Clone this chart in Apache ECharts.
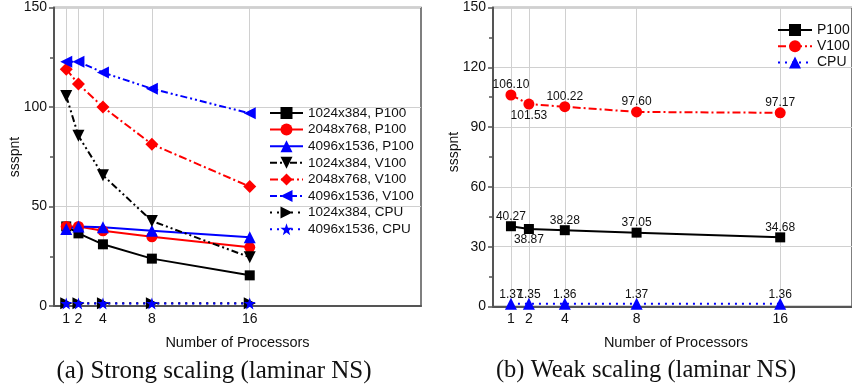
<!DOCTYPE html>
<html><head><meta charset="utf-8">
<script src="https://cdn.jsdelivr.net/npm/echarts@6/dist/echarts.min.js"></script>
<style>html,body{margin:0;padding:0;background:#fff}#c{width:852px;height:389px}</style>
</head><body><div id="c"></div>
<script>
// ---- data ----
const procs = [1, 2, 4, 8, 16];
const xTicks = [1, 2, 4, 8, 16];
const strongNames = ['1024x384, P100','2048x768, P100','4096x1536, P100','1024x384, V100','2048x768, V100','4096x1536, V100','1024x384, CPU','4096x1536, CPU'];
const s_p100_1024 = [40, 36.5, 31, 23.8, 15.4];
const s_p100_2048 = [40, 40, 37.8, 34.8, 29.5];
const s_p100_4096 = [38.7, 40, 39.6, 37.8, 34.5];
const s_v100_1024 = [105.5, 85.5, 65.7, 42.7, 24.5];
const s_v100_2048 = [119, 111.5, 100, 81.3, 60];
const s_v100_4096 = [122.8, 122.8, 117.3, 109.2, 96.8];
const s_cpu_1024 = [1.37, 1.35, 1.36, 1.37, 1.36];
const s_cpu_4096 = [1.3, 1.3, 1.3, 1.3, 1.3];
const weakNames = ['P100', 'V100', 'CPU'];
const w_p100 = [40.27, 38.87, 38.28, 37.05, 34.68];
const w_v100 = [106.10, 101.53, 100.22, 97.60, 97.17];
const w_cpu = [1.37, 1.35, 1.36, 1.37, 1.36];
const leftYTicks = {min: 0, max: 150, interval: 50};
const rightYTicks = {min: 0, max: 150, interval: 30};
const labels = {
  yTitle: 'ssspnt', xTitle: 'Number of Processors',
  capA: '(a) Strong scaling (laminar NS)', capB: '(b) Weak scaling (laminar NS)'
};
// ---- end data ----

const STAR = 'path://M0,-10 L2.35,-3.24 L9.51,-3.09 L3.8,1.24 L5.88,8.09 L0,4 L-5.88,8.09 L-3.8,1.24 L-9.51,-3.09 L-2.35,-3.24 Z';
const FONT = '"Liberation Sans", Arial, sans-serif';
const SERIF = '"Liberation Serif", "DejaVu Serif", serif';
const pts = arr => procs.map((p, i) => [p, arr[i]]);
const DASHDOTDOT = [7, 3, 2, 3, 2, 3];
const DASHDOT = [8, 3, 2, 3];
const DOT = [2, 5];

function mk(name, data, color, symbol, size, type, rot, grid) {
  return {
    name, type: 'line', data: pts(data), xAxisIndex: grid, yAxisIndex: grid,
    symbol, symbolSize: size, symbolRotate: rot || 0,
    itemStyle: {color}, lineStyle: {color, width: 2, type},
    animation: false, z: 3
  };
}

const axisLineStyle = {color: '#555', width: 2};
const gridLine = {show: true, lineStyle: {color: '#d0d0d0', width: 1}};
function xAxis(grid, max) {
  return {
    type: 'value', gridIndex: grid, min: 0, max,
    axisLine: {show: true, onZero: false, lineStyle: axisLineStyle},
    axisTick: {show: false, customValues: xTicks},
    axisLabel: {customValues: xTicks, color: '#111', fontSize: 14, fontFamily: FONT, margin: 6},
    splitLine: gridLine
  };
}
function yAxis(grid, t) {
  return {
    type: 'value', gridIndex: grid, min: t.min, max: t.max, interval: t.interval,
    axisLine: {show: true, lineStyle: axisLineStyle},
    axisTick: {show: true, length: 5, lineStyle: {color: '#555', width: 1.5}},
    minorTick: {show: true, splitNumber: 2, length: 4, lineStyle: {color: '#555', width: 1.5}},
    axisLabel: {color: '#111', fontSize: 14, fontFamily: FONT, margin: 7},
    splitLine: gridLine
  };
}

function weakLabel(data, below, dTop, dBot) {
  return data.map((v, i) => {
    const b = below && i === 1;
    return {
      value: [procs[i], v],
      label: {show: true, position: b ? 'bottom' : 'top', distance: b ? dBot : dTop, formatter: v.toFixed(2),
        color: '#111', fontSize: 12, fontFamily: FONT}
    };
  });
}

const series = [
  mk(strongNames[0], s_p100_1024, '#000', 'rect', 10, 'solid', 0, 0),
  mk(strongNames[1], s_p100_2048, '#ff0000', 'circle', 11, 'solid', 0, 0),
  mk(strongNames[2], s_p100_4096, '#0000ff', 'triangle', 12, 'solid', 0, 0),
  mk(strongNames[3], s_v100_1024, '#000', 'triangle', 12, DASHDOTDOT, 180, 0),
  mk(strongNames[4], s_v100_2048, '#ff0000', 'diamond', 13, DASHDOT, 0, 0),
  mk(strongNames[5], s_v100_4096, '#0000ff', 'triangle', 12, DASHDOTDOT, 90, 0),
  mk(strongNames[6], s_cpu_1024, '#000', 'triangle', 12, DOT, -90, 0),
  mk(strongNames[7], s_cpu_4096, '#0000ff', STAR, 12, DOT, 0, 0)
];
const wp = mk(weakNames[0], w_p100, '#000', 'rect', 10, 'solid', 0, 1); wp.data = weakLabel(w_p100, true, -1, 0);
const wv = mk(weakNames[1], w_v100, '#ff0000', 'circle', 11, DASHDOT, 0, 1); wv.data = weakLabel(w_v100, true, -1, 0);
const wc = mk(weakNames[2], w_cpu, '#0000ff', 'triangle', 12, DOT, 0, 1); wc.data = weakLabel(w_cpu, false, -3, 0);
series.push(wp, wv, wc);

const chart = echarts.init(document.getElementById('c'), null, {renderer: 'canvas'});
chart.setOption({
  animation: false,
  backgroundColor: '#fff',
  grid: [
    {left: 54, top: 7.5, width: 367, height: 298.5, show: true, borderColor: '#555', borderWidth: 1.5, backgroundColor: 'transparent'},
    {left: 493, top: 7.5, width: 368, height: 299, show: true, borderColor: '#555', borderWidth: 1.5, backgroundColor: 'transparent'}
  ],
  xAxis: [xAxis(0, 30), xAxis(1, 20)],
  yAxis: [yAxis(0, leftYTicks), yAxis(1, rightYTicks)],
  legend: [
    {data: strongNames, orient: 'vertical', left: 269, top: 106, itemWidth: 33, itemHeight: 15, itemGap: 2.6,
     textStyle: {fontSize: 13.5, fontFamily: FONT, color: '#111', lineHeight: 13}, padding: 0},
    {data: weakNames, orient: 'vertical', left: 777, top: 23, itemWidth: 34, itemHeight: 15, itemGap: 2.2,
     textStyle: {fontSize: 14, fontFamily: FONT, color: '#111', lineHeight: 13}, padding: 0}
  ],
  graphic: [
    {type: 'text', x: 15, y: 157, rotation: Math.PI / 2, style: {text: labels.yTitle, font: '14px ' + FONT, fill: '#111', align: 'center', verticalAlign: 'middle'}},
    {type: 'text', x: 454, y: 152, rotation: Math.PI / 2, style: {text: labels.yTitle, font: '14px ' + FONT, fill: '#111', align: 'center', verticalAlign: 'middle'}},
    {type: 'text', x: 237.5, y: 343, style: {text: labels.xTitle, font: '14.5px ' + FONT, fill: '#111', align: 'center', verticalAlign: 'middle'}},
    {type: 'text', x: 676, y: 343, style: {text: labels.xTitle, font: '14.5px ' + FONT, fill: '#111', align: 'center', verticalAlign: 'middle'}},
    {type: 'text', x: 214, y: 371, style: {text: labels.capA, font: '25px ' + SERIF, fill: '#111', align: 'center', verticalAlign: 'middle'}},
    {type: 'text', x: 646, y: 371, style: {text: labels.capB, font: '24.5px ' + SERIF, fill: '#111', align: 'center', verticalAlign: 'middle'}}
  ],
  series
});
</script></body></html>
